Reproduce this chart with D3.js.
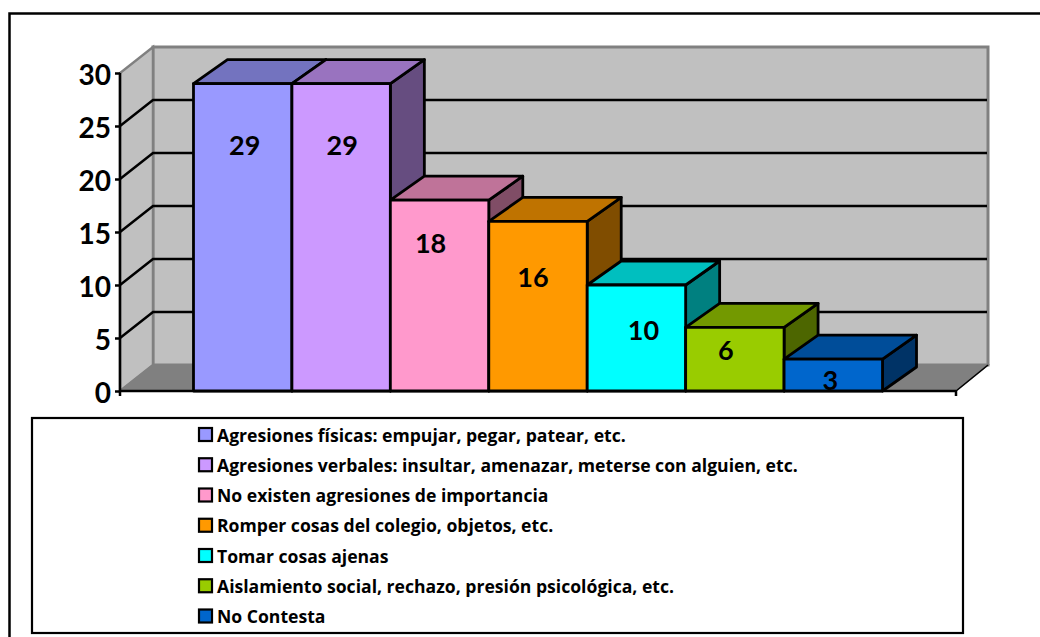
<!DOCTYPE html>
<html>
<head>
<meta charset="utf-8">
<script src="https://cdn.jsdelivr.net/npm/d3@7"></script>
<style>
html,body{margin:0;padding:0;background:#fff}
svg{display:block}
text{font-family:Lato,"Open Sans",sans-serif;font-weight:700;fill:#000}
</style>
</head>
<body>
<div id="chart"></div>
<script>
const categories = [
  "Agresiones físicas: empujar, pegar, patear, etc.",
  "Agresiones verbales: insultar, amenazar, meterse con alguien, etc.",
  "No existen agresiones de importancia",
  "Romper cosas del colegio, objetos, etc.",
  "Tomar cosas ajenas",
  "Aislamiento social, rechazo, presión psicológica, etc.",
  "No Contesta"
];
const values = [29, 29, 18, 16, 10, 6, 3];
const colors = ["#9999FF", "#CC99FF", "#FF99CC", "#FF9900", "#00FFFF", "#99CC00", "#0066CC"];
const tickValues = [0, 5, 10, 15, 20, 25, 30];

// Layout
const W = 1040, H = 637;
const plot = {left: 120, right: 956, bottom: 391, top: 73};
const wall = {dx: 33, dy: -26};
const barDepth = {dx: 34, dy: -24};
// Hand-placed data labels in the original: nudges from each bar's top centre
const labelDrop = [61, 61, 42, 55, 44, 22, 20];
const labelNudge = [2, 1, -9, -5, 7, -9, -3];

const svg = d3.select("#chart").append("svg").attr("width", W).attr("height", H);

const y = d3.scaleLinear().domain([0, 30]).range([plot.bottom, plot.top]);
const x = d3.scaleBand().domain(categories).range([plot.left, plot.right])
  .paddingInner(0).paddingOuter(0.7466);

const poly = pts => pts.map(p => p.join(",")).join(" ");
const shade = (c, k) => { const r = d3.rgb(c); return d3.rgb(r.r * k, r.g * k, r.b * k).formatHex(); };

// Outer frame (runs off the right and bottom of the picture)
svg.append("path").attr("d", `M9.5,${H + 5}V13.5H${W + 5}`)
  .attr("fill", "none").attr("stroke", "#000").attr("stroke-width", 2.5);

const backL = plot.left + wall.dx, backR = plot.right + wall.dx - 1;
const y0 = y(0), y30 = y(30);

// Back wall
svg.append("rect").attr("x", backL).attr("y", y30 + wall.dy)
  .attr("width", backR - backL).attr("height", y0 - y30)
  .attr("fill", "#C0C0C0").attr("stroke", "#808080").attr("stroke-width", 3);
// Side wall
svg.append("polygon")
  .attr("points", poly([[plot.left, y0], [backL, y0 + wall.dy], [backL, y30 + wall.dy], [plot.left, y30]]))
  .attr("fill", "#C0C0C0").attr("stroke", "#808080").attr("stroke-width", 2.5);
// Floor
svg.append("polygon")
  .attr("points", poly([[plot.left, y0], [backL, y0 + wall.dy], [backR, y0 + wall.dy], [plot.right, y0]]))
  .attr("fill", "#808080").attr("stroke", "#808080").attr("stroke-width", 1.5);

// Gridlines
tickValues.filter(t => t > 0 && t < 30).forEach(t => {
  svg.append("path")
    .attr("d", `M${plot.left},${y(t)}L${backL},${y(t) + wall.dy}H${backR - 1}`)
    .attr("fill", "none").attr("stroke", "#000").attr("stroke-width", 2.5);
});

// Axes
const yAxis = svg.append("g").attr("transform", `translate(${plot.left},0)`)
  .call(d3.axisLeft(y).tickValues(tickValues).tickSize(5).tickPadding(4));
yAxis.selectAll("path,line").attr("stroke", "#000").attr("stroke-width", 2.5);
yAxis.selectAll("text").attr("font-size", 28).attr("font-family", "Lato").attr("font-weight", 900)
  .attr("dy", "0.42em");
yAxis.select(".domain").attr("d", `M0,${y30}V${y0}`);

svg.append("path").attr("d", `M${plot.left},${y0}H${plot.right}M${plot.left},${y0}v5M${plot.right},${y0}v5`)
  .attr("fill", "none").attr("stroke", "#000").attr("stroke-width", 2.5);
svg.append("line").attr("x1", plot.right).attr("y1", y0).attr("x2", backR).attr("y2", y0 + wall.dy)
  .attr("stroke", "#000").attr("stroke-width", 1.5);

// Bars
const bars = svg.append("g").selectAll("g").data(categories).join("g")
  .attr("stroke", "#000").attr("stroke-width", 2.8).attr("stroke-linejoin", "round");
bars.each(function (c, i) {
  const g = d3.select(this);
  const l = x(c), r = l + x.bandwidth(), t = y(values[i]), b = y(0);
  const {dx, dy} = barDepth;
  g.append("polygon").attr("points", poly([[r, b], [r + dx, b + dy], [r + dx, t + dy], [r, t]]))
    .attr("fill", shade(colors[i], 0.5));
  g.append("polygon").attr("points", poly([[l, t], [l + dx, t + dy], [r + dx, t + dy], [r, t]]))
    .attr("fill", shade(colors[i], 0.75));
  g.append("rect").attr("x", l).attr("y", t).attr("width", r - l).attr("height", b - t)
    .attr("fill", colors[i]);
});

// Data labels
svg.append("g").selectAll("text").data(categories).join("text")
  .attr("x", (c, i) => x(c) + x.bandwidth() / 2 + labelNudge[i])
  .attr("y", (c, i) => y(values[i]) + labelDrop[i])
  .attr("text-anchor", "middle").attr("dominant-baseline", "central")
  .attr("font-size", 27).attr("font-weight", 900)
  .text((c, i) => values[i]);

// Legend
const legendBox = {x: 32, y: 418, w: 931, h: 215};
svg.append("rect").attr("x", legendBox.x).attr("y", legendBox.y)
  .attr("width", legendBox.w).attr("height", legendBox.h)
  .attr("fill", "#fff").attr("stroke", "#000").attr("stroke-width", 2.2);
const ly = d3.scalePoint().domain(categories).range([434.5, 616]);
const items = svg.append("g").selectAll("g").data(categories).join("g")
  .attr("transform", c => `translate(199,${ly(c)})`);
items.append("rect").attr("x", 0).attr("y", -6.5).attr("width", 13).attr("height", 13)
  .attr("fill", (c, i) => colors[i]).attr("stroke", "#000").attr("stroke-width", 2.2);
items.append("text").attr("x", 18).attr("dominant-baseline", "central")
  .style("font-family", "'Open Sans'").attr("font-size", 17.6).text(c => c);
</script>
</body>
</html>
